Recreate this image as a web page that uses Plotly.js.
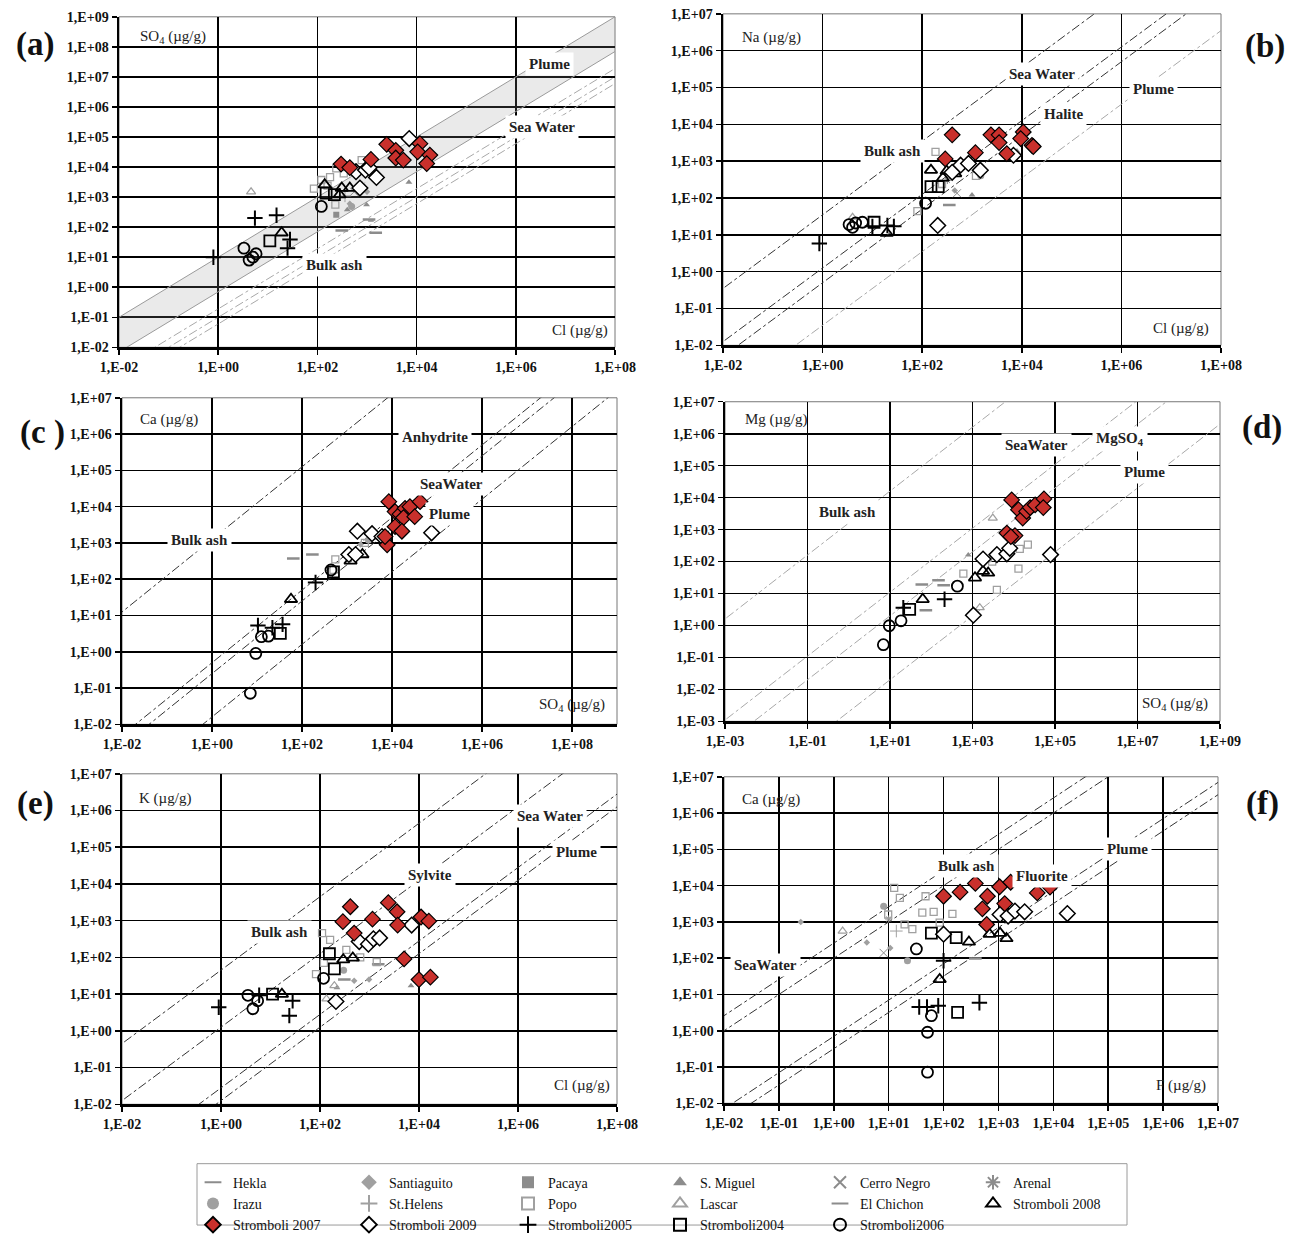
<!DOCTYPE html>
<html><head><meta charset="utf-8">
<script src="https://cdn.plot.ly/plotly-3.0.1.min.js"></script>
<style>html,body{margin:0;padding:0;background:#fff}</style>
</head><body><div id="chart" style="width:1291px;height:1241px"></div>
<script>
// ---------------- DATA (µg/g) ----------------
// Panel (a): x = Cl, y = SO4
const a_s2007_cl = [3.0e2, 4.5e2, 1.2e3, 2.5e3, 3.8e3, 3.8e3, 5.4e3, 1.17e4, 1.05e4, 1.85e4, 1.6e4];
const a_s2007_so4 = [1.26e4, 9.6e3, 1.8e4, 5.7e4, 3.6e4, 2.0e4, 1.7e4, 6.0e4, 3.2e4, 2.5e4, 1.3e4];
const a_s2009_cl = [7.1e3, 6.0e2, 9.3e2, 1.55e3, 7.2e2, 1.1e3];
const a_s2009_so4 = [8.9e4, 7.0e3, 7.9e3, 4.5e3, 2.0e3, 9.5e3];
const a_s2008_cl = [1.4e2, 3.1e2, 4.5e2, 2.8e2, 19];
const a_s2008_so4 = [2.6e3, 2.0e3, 2.0e3, 1.2e3, 65];
const a_s2004_cl = [1.5e2, 11, 2.2e2];
const a_s2004_so4 = [1.35e3, 35, 1.2e3];
const a_s2006_cl = [1.2e2, 3.3, 4.2, 5.8, 5.0];
const a_s2006_so4 = [4.9e2, 20, 8, 13, 10];
const a_s2005_cl = [5.5, 15, 28, 25, 0.8];
const a_s2005_so4 = [200, 250, 39, 20, 10];
const a_popo_cl = [85, 1.2e2, 1.8e2, 2.4e2, 3.4e2, 7.8e2, 2.3e2, 1.6e2, 4.0e2];
const a_popo_so4 = [1.9e3, 3.7e3, 4.6e3, 9.1e3, 6.2e3, 1.7e4, 5.6e2, 2.4e3, 1.0e4];
const a_lascar_cl = [4.6]; const a_lascar_so4 = [1.5e3];
const a_smiguel_cl = [7.0e3, 9.8e2, 4.0e2]; const a_smiguel_so4 = [3.1e3, 5.6e2, 3.8e2];
const a_pacaya_cl = [2.4e2]; const a_pacaya_so4 = [2.6e2];
const a_hekla_cl = [3.1e2, 1.1e3, 1.5e3]; const a_hekla_so4 = [78, 180, 65];
const a_irazu_cl = [4.9e2]; const a_irazu_so4 = [4.9e2];
const a_santiaguito_cl = [4.5e2, 1.0e3]; const a_santiaguito_so4 = [6.0e2, 1.5e3];
const a_elchichon_cl = [1.2e3]; const a_elchichon_so4 = [1.6e2];
const a_sthelens_cl = [3.6e2]; const a_sthelens_so4 = [1.1e3];
const a_cerro_cl = [5.5e2]; const a_cerro_so4 = [1.5e3];
const a_arenal_cl = [8.0e2]; const a_arenal_so4 = [2.5e3];

// Panel (b): x = Cl, y = Na
const b_s2007_cl = [4.0e2, 2.9e2, 1.17e3, 2.4e3, 3.5e3, 3.5e3, 5.0e3, 1.07e4, 9.5e3, 1.6e4, 1.7e4];
const b_s2007_na = [5.2e3, 1.15e3, 1.7e3, 5.2e3, 5.2e3, 3.2e3, 1.6e3, 6.2e3, 4.1e3, 2.7e3, 2.5e3];
const b_s2009_cl = [2.05e2, 5.9e2, 8.5e2, 1.47e3, 6.8e3, 4.0e2];
const b_s2009_na = [18, 7.8e2, 8.7e2, 5.7e2, 1.45e3, 5.0e2];
const b_s2008_cl = [1.5e2, 3.1e2, 4.6e2, 19.4, 2.6e2];
const b_s2008_na = [5.7e2, 5.4e2, 4.6e2, 11.2, 3.5e2];
const b_s2004_cl = [1.5e2, 2.1e2, 10.8]; const b_s2004_na = [2.05e2, 2.05e2, 22];
const b_s2006_cl = [1.17e2, 3.4, 4.6, 6.3, 4.0]; const b_s2006_na = [72, 19, 21, 22, 16];
const b_s2005_cl = [0.86, 10, 27, 20]; const b_s2005_na = [5.8, 17, 17, 18];
const b_popo_cl = [1.85e2, 80, 1.2e3, 2.5e2]; const b_popo_na = [1.8e3, 44, 4.0e2, 2.4e2];
const b_smiguel_cl = [1.0e3, 8.0e3]; const b_smiguel_na = [1.2e2, 1.9e3];
const b_cerro_cl = [5.0e2]; const b_cerro_na = [1.35e2];
const b_santiaguito_cl = [4.5e2]; const b_santiaguito_na = [1.6e2];
const b_irazu_cl = [1.5e3]; const b_irazu_na = [4.0e2];
const b_lascar_cl = [4.0]; const b_lascar_na = [30];
const b_hekla_cl = [3.5e2]; const b_hekla_na = [65];
const b_arenal_cl = [3.2e2]; const b_arenal_na = [3.0e2];

// Panel (c): x = SO4, y = Ca
const c_s2007_so4 = [8.5e3, 1.17e4, 1.5e4, 1.95e4, 2.5e4, 1.8e4, 3.2e4, 4.2e4, 1.17e4, 1.66e4, 7.8e3, 7.0e3];
const c_s2007_ca = [1.37e4, 7.3e3, 6.2e3, 9.0e3, 1.0e4, 5.0e3, 5.3e3, 1.37e4, 2.8e3, 2.1e3, 8.9e2, 1.5e3];
const c_s2009_so4 = [1.7e3, 3.6e3, 6.0e3, 7.6e4, 1.1e3, 1.55e3];
const c_s2009_ca = [2.1e3, 1.8e3, 1.5e3, 1.9e3, 4.8e2, 4.8e2];
const c_s2008_so4 = [2.2e3, 1.2e3, 57]; const c_s2008_ca = [4.8e2, 3.2e2, 28];
const c_s2006_so4 = [4.4e2, 9.4, 7.1, 12.5, 18]; const c_s2006_ca = [1.8e2, 0.9, 0.072, 2.6, 2.7];
const c_s2004_so4 = [33, 5.0e2]; const c_s2004_ca = [3.2, 1.6e2];
const c_s2005_so4 = [10.5, 37, 2.0e2, 22]; const c_s2005_ca = [5.3, 5.7, 81, 4.6];
const c_hekla_so4 = [64, 1.7e2]; const c_hekla_ca = [3.7e2, 4.8e2];
const c_popo_so4 = [5.5e2, 5.0e2, 2.5e3, 4.0e3]; const c_popo_ca = [3.5e2, 1.8e2, 1.0e3, 1.6e3];
const c_smiguel_so4 = [4.0e3]; const c_smiguel_ca = [2.2e3];
const c_irazu_so4 = [3.0e3]; const c_irazu_ca = [1.2e3];
const c_santiaguito_so4 = [2.0e3]; const c_santiaguito_ca = [9.0e2];

// Panel (d): x = SO4, y = Mg
const d_s2007_so4 = [8.9e3, 1.3e4, 1.65e4, 2.05e4, 2.5e4, 3.3e4, 5.4e4, 5.2e4, 6.8e3, 1.07e4, 8.5e3];
const d_s2007_mg = [8.5e3, 4.2e3, 2.3e3, 3.7e3, 4.9e3, 5.9e3, 9.1e3, 4.9e3, 7.8e2, 6.5e2, 6.0e2];
const d_s2009_so4 = [7.8e4, 1.05e3, 1.8e3, 3.9e3, 6.8e3, 8.0e3];
const d_s2009_mg = [1.65e2, 2.1, 1.2e2, 1.65e2, 1.75e2, 2.6e2];
const d_s2008_so4 = [1.15e3, 1.8e3, 2.4e3, 62]; const d_s2008_mg = [31, 50, 44, 6.6];
const d_s2006_so4 = [4.3e2, 9.6, 18.5, 6.9]; const d_s2006_mg = [17, 0.98, 1.4, 0.25];
const d_s2004_so4 = [30]; const d_s2004_mg = [3.2];
const d_s2005_so4 = [21, 2.1e2]; const d_s2005_mg = [3.6, 6.6];
const d_popo_so4 = [6.0e2, 1.3e4, 2.2e4, 3.9e3, 1.4e4, 3.0e3]; const d_popo_mg = [42, 60, 3.4e2, 13, 2.5e2, 1.0e2];
const d_lascar_so4 = [3.1e3, 1.5e3]; const d_lascar_mg = [2.3e3, 3.6];
const d_hekla_so4 = [59, 1.5e2, 74, 2.0e2]; const d_hekla_mg = [19, 26, 3.0, 18];
const d_smiguel_so4 = [7.9e2]; const d_smiguel_mg = [1.6e2];
const d_irazu_so4 = [2.5e3]; const d_irazu_mg = [1.2e2];

// Panel (e): x = Cl, y = K
const e_s2007_cl = [4.1e2, 2.9e2, 4.9e2, 1.15e3, 2.4e3, 3.6e3, 3.7e3, 1.1e4, 1.58e4, 5.0e3, 1.0e4, 1.7e4];
const e_s2007_k = [2.4e3, 9.4e2, 4.6e2, 1.1e3, 3.1e3, 1.75e3, 7.6e2, 1.26e3, 9.7e2, 91, 25, 29];
const e_s2009_cl = [2.1e2, 6.2e2, 9.5e2, 1.2e3, 1.6e3, 7.1e3]; const e_s2009_k = [6.3, 2.7e2, 2.3e2, 3.2e2, 3.4e2, 7.6e2];
const e_s2008_cl = [2.95e2, 4.6e2, 17]; const e_s2008_k = [87, 97, 10];
const e_s2004_cl = [1.55e2, 1.95e2, 11]; const e_s2004_k = [1.26e2, 49, 10];
const e_s2006_cl = [1.18e2, 3.5, 4.4, 5.5]; const e_s2006_k = [27, 9.3, 4.0, 6.6];
const e_s2005_cl = [0.9, 24, 28, 5.9]; const e_s2005_k = [4.4, 2.6, 6.6, 9.3];
const e_popo_cl = [1.1e2, 83, 1.2e2, 3.4e2, 6.5e2, 1.4e3, 1.6e2]; const e_popo_k = [4.6e2, 35, 71, 1.6e2, 1.0e2, 75, 3.0e2];
const e_lascar_cl = [1.35e2, 1.95e2]; const e_lascar_k = [7.4, 17];
const e_santiaguito_cl = [4.9e2, 9.8e2]; const e_santiaguito_k = [23, 25];
const e_hekla_cl = [3.1e2, 1.5e3]; const e_hekla_k = [25, 65];
const e_smiguel_cl = [6.9e3, 2.2e2]; const e_smiguel_k = [17, 15];
const e_irazu_cl = [3.0e2]; const e_irazu_k = [45];

// Panel (f): x = F, y = Ca
const f_s2007_f = [1e2, 2e2, 3.8e2, 6.3e2, 5.1e2, 6.1e2, 1.05e3, 1.3e3, 1.67e3, 5.1e3, 8.7e3];
const f_s2007_ca = [5.1e3, 6.6e3, 1.15e4, 5.1e3, 2.3e3, 8.5e2, 9.3e3, 3.2e3, 1.24e4, 6.3e3, 9.1e3];
const f_s2009_f = [1e2, 1.07e3, 1.5e3, 2.0e3, 3.0e3, 1.8e4]; const f_s2009_ca = [4.6e2, 1.6e3, 1.45e3, 2.0e3, 1.9e3, 1.7e3];
const f_s2008_f = [2.9e2, 6.9e2, 1.07e3, 1.4e3, 85]; const f_s2008_ca = [2.8e2, 4.6e2, 4.9e2, 3.5e2, 26];
const f_s2004_f = [60, 1.7e2, 1.8e2]; const f_s2004_ca = [4.9e2, 3.7e2, 3.2];
const f_s2006_f = [32, 60, 51, 51]; const f_s2006_ca = [1.8e2, 2.6, 0.91, 0.072];
const f_s2005_f = [36, 80, 1e2, 4.5e2, 50]; const f_s2005_ca = [4.5, 4.9, 85, 5.9, 4.5];
const f_popo_f = [12.6, 16, 47, 41, 66, 1.45e2, 19.5, 27, 85, 9.8]; const f_popo_ca = [8.7e3, 4.6e3, 5.1e3, 1.8e3, 1.9e3, 1.66e3, 8.5e2, 6.3e2, 9.6e2, 1.6e3];
const f_lascar_f = [1.45]; const f_lascar_ca = [5.6e2];
const f_santiaguito_f = [4, 10.7, 0.25]; const f_santiaguito_ca = [2.7e2, 1.9e2, 1.0e3];
const f_irazu_f = [8.1, 22]; const f_irazu_ca = [2.7e3, 85];
const f_cerro_f = [8.1]; const f_cerro_ca = [1.4e2];
const f_sthelens_f = [13.8]; const f_sthelens_ca = [5.6e2];
const f_hekla_f = [3.8e2]; const f_hekla_ca = [98];
const f_arenal_f = [10]; const f_arenal_ca = [1.2e3];

// Reference ratio lines (y/x) per panel
const a_band_ratio = [10, 0.7];            // Plume band (shaded)
const a_line_ratio = [0.19, 0.1, 0.06];
const b_line_ratio = [35, 1.26, 0.5];
const b_line_ratio_light = [0.035];
const c_line_ratio = [1250, 0.5, 0.25, 0.016];
const d_line_ratio = [1600, 1.1, 0.2, 0.002];
const e_line_ratio = [45, 1.26, 0.028, 0.0126];
const f_line_ratio = [260, 100, 0.7, 0.32];

// Line labels: text, x, y (data units)
const a_labels = [["Plume", 4.8e6, 2.7e7], ["Sea Water", 3.3e6, 2.2e5], ["Bulk ash", 2.2e2, 5.6]];
const b_labels = [["Sea Water", 2.5e4, 2.3e5], ["Plume", 4.4e6, 9e4], ["Halite", 6.9e4, 1.9e4], ["Bulk ash", 25, 1.9e3]];
const c_labels = [["Anhydrite", 9.1e4, 8.5e5], ["SeaWater", 2.1e5, 4.2e4], ["Plume", 1.9e5, 6.3e3], ["Bulk ash", 0.54, 1.2e3]];
const d_labels = [["SeaWater", 3.5e4, 4.3e5], ["MgSO<sub>4</sub>", 3.8e6, 7e5], ["Plume", 1.5e7, 6.3e4], ["Bulk ash", 0.95, 3.5e3]];
const e_labels = [["Sea Water", 4.5e6, 6.9e5], ["Plume", 1.5e7, 7.4e4], ["Sylvite", 1.66e4, 1.8e4], ["Bulk ash", 15.5, 4.9e2]];
const f_labels = [["SeaWater", 0.056, 66], ["Bulk ash", 2.6e2, 3.5e4], ["Fluorite", 6.2e3, 1.8e4], ["Plume", 2.2e5, 1e5]];

// Tick labels
const tick_x_std = [1e-2, 1e0, 1e2, 1e4, 1e6, 1e8];
const tick_x_std_text = ["1,E-02", "1,E+00", "1,E+02", "1,E+04", "1,E+06", "1,E+08"];
const tick_x_d = [1e-3, 1e-1, 1e1, 1e3, 1e5, 1e7, 1e9];
const tick_x_d_text = ["1,E-03", "1,E-01", "1,E+01", "1,E+03", "1,E+05", "1,E+07", "1,E+09"];
const tick_x_f = [1e-2, 1e-1, 1e0, 1e1, 1e2, 1e3, 1e4, 1e5, 1e6, 1e7];
const tick_x_f_text = ["1,E-02", "1,E-01", "1,E+00", "1,E+01", "1,E+02", "1,E+03", "1,E+04", "1,E+05", "1,E+06", "1,E+07"];
const tick_y_a = [1e-2, 1e-1, 1e0, 1e1, 1e2, 1e3, 1e4, 1e5, 1e6, 1e7, 1e8, 1e9];
const tick_y_a_text = ["1,E-02", "1,E-01", "1,E+00", "1,E+01", "1,E+02", "1,E+03", "1,E+04", "1,E+05", "1,E+06", "1,E+07", "1,E+08", "1,E+09"];
const tick_y_std = [1e-2, 1e-1, 1e0, 1e1, 1e2, 1e3, 1e4, 1e5, 1e6, 1e7];
const tick_y_std_text = ["1,E-02", "1,E-01", "1,E+00", "1,E+01", "1,E+02", "1,E+03", "1,E+04", "1,E+05", "1,E+06", "1,E+07"];
const tick_y_d = [1e-3, 1e-2, 1e-1, 1e0, 1e1, 1e2, 1e3, 1e4, 1e5, 1e6, 1e7];
const tick_y_d_text = ["1,E-03", "1,E-02", "1,E-01", "1,E+00", "1,E+01", "1,E+02", "1,E+03", "1,E+04", "1,E+05", "1,E+06", "1,E+07"];

// ---------------- STYLES ----------------
const GREY = '#8c8c8c', LGREY = '#a0a0a0';
function mk(symbol, size, color, lineColor, lineWidth) {
  return {symbol: symbol, size: size, color: color, line: {color: lineColor, width: lineWidth}};
}
// leg = legend column, rank = row within column
const STYLE = {
  hekla: {name: 'Hekla', leg: 'legend', rank: 1, marker: mk('line-ew-open', 9, GREY, GREY, 2.5)},
  irazu: {name: 'Irazu', leg: 'legend', rank: 2, marker: mk('circle', 7, LGREY, LGREY, 0)},
  s2007: {name: 'Stromboli 2007', leg: 'legend', rank: 3, marker: mk('diamond', 12, '#c9302c', '#000', 1.2)},
  santiaguito: {name: 'Santiaguito', leg: 'legend2', rank: 1, marker: mk('diamond', 5, LGREY, LGREY, 0)},
  sthelens: {name: 'St.Helens', leg: 'legend2', rank: 2, marker: mk('cross-thin-open', 9, LGREY, LGREY, 1)},
  s2009: {name: 'Stromboli 2009', leg: 'legend2', rank: 3, marker: mk('diamond', 12, '#fff', '#000', 1.5)},
  pacaya: {name: 'Pacaya', leg: 'legend3', rank: 1, marker: mk('square', 6, GREY, GREY, 0)},
  popo: {name: 'Popo', leg: 'legend3', rank: 2, marker: mk('square-open', 7, LGREY, LGREY, 1.3)},
  s2005: {name: 'Stromboli2005', leg: 'legend3', rank: 3, marker: mk('cross-thin-open', 11, '#000', '#000', 2)},
  smiguel: {name: 'S. Miguel', leg: 'legend4', rank: 1, marker: mk('triangle-up', 6, GREY, GREY, 0)},
  lascar: {name: 'Lascar', leg: 'legend4', rank: 2, marker: mk('triangle-up-open', 8, LGREY, LGREY, 1.2)},
  s2004: {name: 'Stromboli2004', leg: 'legend4', rank: 3, marker: mk('square-open', 11, '#000', '#000', 1.8)},
  cerro: {name: 'Cerro Negro', leg: 'legend5', rank: 1, marker: mk('x-thin-open', 8, GREY, GREY, 1)},
  elchichon: {name: 'El Chichon', leg: 'legend5', rank: 2, marker: mk('line-ew-open', 4, GREY, GREY, 1.5)},
  s2006: {name: 'Stromboli2006', leg: 'legend5', rank: 3, marker: mk('circle-open', 11, '#000', '#000', 1.8)},
  arenal: {name: 'Arenal', leg: 'legend6', rank: 1, marker: mk('asterisk-open', 6, GREY, GREY, 1)},
  s2008: {name: 'Stromboli 2008', leg: 'legend6', rank: 2, marker: mk('triangle-up-open', 11, '#000', '#000', 1.8)}
};
const DRAW_ORDER = ['hekla', 'santiaguito', 'pacaya', 'smiguel', 'cerro', 'arenal', 'irazu', 'sthelens', 'popo', 'lascar', 'elchichon', 's2005', 's2004', 's2006', 's2008', 's2009', 's2007'];
// legend columns: left edge (px) in the figure
const LEGEND_COLS = {legend: 193, legend2: 349, legend3: 508, legend4: 660, legend5: 820, legend6: 973};

const PANELS = [
  {id: 'a', n: '', px: [119, 615], py: [17, 351], xr: [-2, 8], yr: [-2, 9], xt: [tick_x_std, tick_x_std_text], yt: [tick_y_a, tick_y_a_text],
   data: {s2007: [a_s2007_cl, a_s2007_so4], s2009: [a_s2009_cl, a_s2009_so4], s2008: [a_s2008_cl, a_s2008_so4], s2004: [a_s2004_cl, a_s2004_so4],
     s2006: [a_s2006_cl, a_s2006_so4], s2005: [a_s2005_cl, a_s2005_so4], popo: [a_popo_cl, a_popo_so4], lascar: [a_lascar_cl, a_lascar_so4],
     smiguel: [a_smiguel_cl, a_smiguel_so4], pacaya: [a_pacaya_cl, a_pacaya_so4], hekla: [a_hekla_cl, a_hekla_so4], irazu: [a_irazu_cl, a_irazu_so4],
     santiaguito: [a_santiaguito_cl, a_santiaguito_so4], elchichon: [a_elchichon_cl, a_elchichon_so4], sthelens: [a_sthelens_cl, a_sthelens_so4],
     cerro: [a_cerro_cl, a_cerro_so4], arenal: [a_arenal_cl, a_arenal_so4]},
   lines: a_line_ratio, lineColor: '#a8a8a8', light: [], labels: a_labels,
   ytitle: 'SO<sub>4</sub> (µg/g)', xtitle: 'Cl (µg/g)', tl: [0.038, 0.94], br: [0.99, 0.05], letter: ['(a)', 35, 45]},
  {id: 'b', n: '2', px: [723, 1221], py: [14, 349], xr: [-2, 8], yr: [-2, 7], xt: [tick_x_std, tick_x_std_text], yt: [tick_y_std, tick_y_std_text],
   data: {s2007: [b_s2007_cl, b_s2007_na], s2009: [b_s2009_cl, b_s2009_na], s2008: [b_s2008_cl, b_s2008_na], s2004: [b_s2004_cl, b_s2004_na],
     s2006: [b_s2006_cl, b_s2006_na], s2005: [b_s2005_cl, b_s2005_na], popo: [b_popo_cl, b_popo_na], smiguel: [b_smiguel_cl, b_smiguel_na],
     cerro: [b_cerro_cl, b_cerro_na], santiaguito: [b_santiaguito_cl, b_santiaguito_na], irazu: [b_irazu_cl, b_irazu_na],
     lascar: [b_lascar_cl, b_lascar_na], hekla: [b_hekla_cl, b_hekla_na], arenal: [b_arenal_cl, b_arenal_na]},
   lines: b_line_ratio, lineColor: '#333', light: b_line_ratio_light, labels: b_labels,
   ytitle: 'Na (µg/g)', xtitle: 'Cl (µg/g)', tl: [0.034, 0.93], br: [0.98, 0.05], letter: ['(b)', 1265, 47]},
  {id: 'c', n: '3', px: [122, 617], py: [402, 732], xr: [-2, 9], yr: [-2, 7], xt: [tick_x_std, tick_x_std_text], yt: [tick_y_std, tick_y_std_text],
   data: {s2007: [c_s2007_so4, c_s2007_ca], s2009: [c_s2009_so4, c_s2009_ca], s2008: [c_s2008_so4, c_s2008_ca], s2006: [c_s2006_so4, c_s2006_ca],
     s2004: [c_s2004_so4, c_s2004_ca], s2005: [c_s2005_so4, c_s2005_ca], hekla: [c_hekla_so4, c_hekla_ca], popo: [c_popo_so4, c_popo_ca],
     smiguel: [c_smiguel_so4, c_smiguel_ca], irazu: [c_irazu_so4, c_irazu_ca], santiaguito: [c_santiaguito_so4, c_santiaguito_ca]},
   lines: c_line_ratio, lineColor: '#333', light: [], labels: c_labels,
   ytitle: 'Ca (µg/g)', xtitle: 'SO<sub>4</sub> (µg/g)', tl: [0.033, 0.935], br: [0.98, 0.06], letter: ['(c )', 42, 437]},
  {id: 'd', n: '4', px: [725, 1220], py: [406, 729], xr: [-3, 9], yr: [-3, 7], xt: [tick_x_d, tick_x_d_text], yt: [tick_y_d, tick_y_d_text],
   data: {s2007: [d_s2007_so4, d_s2007_mg], s2009: [d_s2009_so4, d_s2009_mg], s2008: [d_s2008_so4, d_s2008_mg], s2006: [d_s2006_so4, d_s2006_mg],
     s2004: [d_s2004_so4, d_s2004_mg], s2005: [d_s2005_so4, d_s2005_mg], popo: [d_popo_so4, d_popo_mg], lascar: [d_lascar_so4, d_lascar_mg],
     hekla: [d_hekla_so4, d_hekla_mg], smiguel: [d_smiguel_so4, d_smiguel_mg], irazu: [d_irazu_so4, d_irazu_mg]},
   lines: d_line_ratio, lineColor: '#a8a8a8', light: [], labels: d_labels,
   ytitle: 'Mg (µg/g)', xtitle: 'SO<sub>4</sub> (µg/g)', tl: [0.036, 0.945], br: [0.98, 0.055], letter: ['(d)', 1262, 432]},
  {id: 'e', n: '5', px: [122, 617], py: [782, 1116], xr: [-2, 8], yr: [-2, 7], xt: [tick_x_std, tick_x_std_text], yt: [tick_y_std, tick_y_std_text],
   data: {s2007: [e_s2007_cl, e_s2007_k], s2009: [e_s2009_cl, e_s2009_k], s2008: [e_s2008_cl, e_s2008_k], s2004: [e_s2004_cl, e_s2004_k],
     s2006: [e_s2006_cl, e_s2006_k], s2005: [e_s2005_cl, e_s2005_k], popo: [e_popo_cl, e_popo_k], lascar: [e_lascar_cl, e_lascar_k],
     santiaguito: [e_santiaguito_cl, e_santiaguito_k], hekla: [e_hekla_cl, e_hekla_k], smiguel: [e_smiguel_cl, e_smiguel_k], irazu: [e_irazu_cl, e_irazu_k]},
   lines: e_line_ratio, lineColor: '#333', light: [], labels: e_labels,
   ytitle: 'K (µg/g)', xtitle: 'Cl (µg/g)', tl: [0.03, 0.925], br: [0.99, 0.057], letter: ['(e)', 35, 812]},
  {id: 'f', n: '6', px: [724, 1218], py: [785, 1115], xr: [-2, 7], yr: [-2, 7], xt: [tick_x_f, tick_x_f_text], yt: [tick_y_std, tick_y_std_text],
   data: {s2007: [f_s2007_f, f_s2007_ca], s2009: [f_s2009_f, f_s2009_ca], s2008: [f_s2008_f, f_s2008_ca], s2004: [f_s2004_f, f_s2004_ca],
     s2006: [f_s2006_f, f_s2006_ca], s2005: [f_s2005_f, f_s2005_ca], popo: [f_popo_f, f_popo_ca], lascar: [f_lascar_f, f_lascar_ca],
     santiaguito: [f_santiaguito_f, f_santiaguito_ca], irazu: [f_irazu_f, f_irazu_ca], cerro: [f_cerro_f, f_cerro_ca],
     sthelens: [f_sthelens_f, f_sthelens_ca], hekla: [f_hekla_f, f_hekla_ca], arenal: [f_arenal_f, f_arenal_ca]},
   lines: f_line_ratio, lineColor: '#333', light: [], labels: f_labels,
   ytitle: 'Ca (µg/g)', xtitle: 'F (µg/g)', tl: [0.032, 0.93], br: [0.98, 0.055], letter: ['(f)', 1262, 812]}
];

// ---------------- BUILD ----------------
const W = 1291, H = 1241;
const SERIF = 'Liberation Serif, Times New Roman, serif';
const traces = [], annotations = [], shapes = [];
const layout = {
  width: W, height: H, margin: {l: 0, r: 0, t: 0, b: 0}, paper_bgcolor: '#fff', plot_bgcolor: '#fff',
  hovermode: false, font: {family: SERIF, color: '#111'}, showlegend: true
};
Object.keys(LEGEND_COLS).forEach(k => {
  layout[k] = {orientation: 'v', x: LEGEND_COLS[k] / W, y: 1 - 1179 / H, xanchor: 'left', yanchor: 'top',
    font: {family: SERIF, size: 14, color: '#111'}, bgcolor: 'rgba(0,0,0,0)', borderwidth: 0, itemsizing: 'constant', tracegroupgap: 0};
});
// legend frame
shapes.push({type: 'rect', xref: 'paper', yref: 'paper', x0: 197 / W, x1: 1127 / W, y0: 1 - 1238 / H, y1: 1 - 1176 / H,
  line: {color: '#9a9a9a', width: 1}, layer: 'below'});

const LX = [1e-4, 1e10];
const legendShown = {};

PANELS.forEach(p => {
  const xa = 'x' + p.n, ya = 'y' + p.n;
  const axBase = {type: 'log', showgrid: true, gridcolor: '#000', gridwidth: 1.6, zeroline: false,
    showline: true, linecolor: '#000', linewidth: 2.5, mirror: false, ticks: 'outside', ticklen: 5, tickcolor: '#000', tickwidth: 1.5,
    tickfont: {family: SERIF, size: 14, color: '#111', weight: 'bold'}, tickmode: 'array', fixedrange: true};
  layout['xaxis' + p.n] = Object.assign({}, axBase, {domain: [p.px[0] / W, p.px[1] / W], range: p.xr, anchor: ya,
    tickvals: p.xt[0], ticktext: p.xt[1]});
  layout['yaxis' + p.n] = Object.assign({}, axBase, {domain: [1 - p.py[1] / H, 1 - p.py[0] / H], range: p.yr, anchor: xa,
    tickvals: p.yt[0], ticktext: p.yt[1]});
  shapes.push({type: 'rect', xref: xa + ' domain', yref: ya + ' domain', x0: 0, x1: 1, y0: 0, y1: 1, layer: 'below',
    line: {color: '#777', width: 1}});
  if (p.id === 'a') {
    traces.push({x: LX, y: LX.map(v => v * a_band_ratio[0]), xaxis: xa, yaxis: ya, mode: 'lines', showlegend: false,
      line: {color: '#9a9a9a', width: 1}});
    traces.push({x: LX, y: LX.map(v => v * a_band_ratio[1]), xaxis: xa, yaxis: ya, mode: 'lines', showlegend: false,
      line: {color: '#9a9a9a', width: 1}, fill: 'tonexty', fillcolor: 'rgba(150,150,150,0.2)'});
  }
  p.lines.forEach(r => traces.push({x: LX, y: LX.map(v => v * r), xaxis: xa, yaxis: ya, mode: 'lines', showlegend: false,
    line: {color: p.lineColor, width: 1, dash: 'dashdot'}}));
  p.light.forEach(r => traces.push({x: LX, y: LX.map(v => v * r), xaxis: xa, yaxis: ya, mode: 'lines', showlegend: false,
    line: {color: '#a8a8a8', width: 1, dash: 'dashdot'}}));
  DRAW_ORDER.forEach(k => {
    const d = p.data[k];
    if (!d) return;
    const st = STYLE[k];
    const show = !legendShown[k];
    legendShown[k] = true;
    traces.push({x: d[0], y: d[1], xaxis: xa, yaxis: ya, mode: 'markers', name: st.name, legendgroup: k, legend: st.leg,
      showlegend: show, legendrank: st.rank, marker: st.marker});
  });
  p.labels.forEach(l => annotations.push({xref: xa, yref: ya, x: Math.log10(l[1]), y: Math.log10(l[2]), text: l[0],
    showarrow: false, bgcolor: '#fff', borderpad: 3, font: {family: SERIF, size: 15, color: '#222', weight: 'bold'}}));
  annotations.push({xref: xa + ' domain', yref: ya + ' domain', x: p.tl[0], y: p.tl[1], xanchor: 'left', yanchor: 'middle',
    text: p.ytitle, showarrow: false, font: {family: SERIF, size: 15, color: '#222'}});
  annotations.push({xref: xa + ' domain', yref: ya + ' domain', x: p.br[0], y: p.br[1], xanchor: 'right', yanchor: 'middle',
    text: p.xtitle, showarrow: false, font: {family: SERIF, size: 15, color: '#222'}});
  annotations.push({xref: 'paper', yref: 'paper', x: p.letter[1] / W, y: 1 - p.letter[2] / H, xanchor: 'center', yanchor: 'middle',
    text: p.letter[0], showarrow: false, font: {family: SERIF, size: 33, color: '#111', weight: 'bold'}});
});

Object.keys(STYLE).forEach(k => {
  if (!legendShown[k]) {
    const st = STYLE[k];
    traces.push({x: [null], y: [null], mode: 'markers', name: st.name, legendgroup: k, legend: st.leg, showlegend: true, legendrank: st.rank, marker: st.marker});
  }
});

layout.annotations = annotations;
layout.shapes = shapes;
Plotly.newPlot('chart', traces, layout, {displayModeBar: false, staticPlot: true});
</script></body></html>
